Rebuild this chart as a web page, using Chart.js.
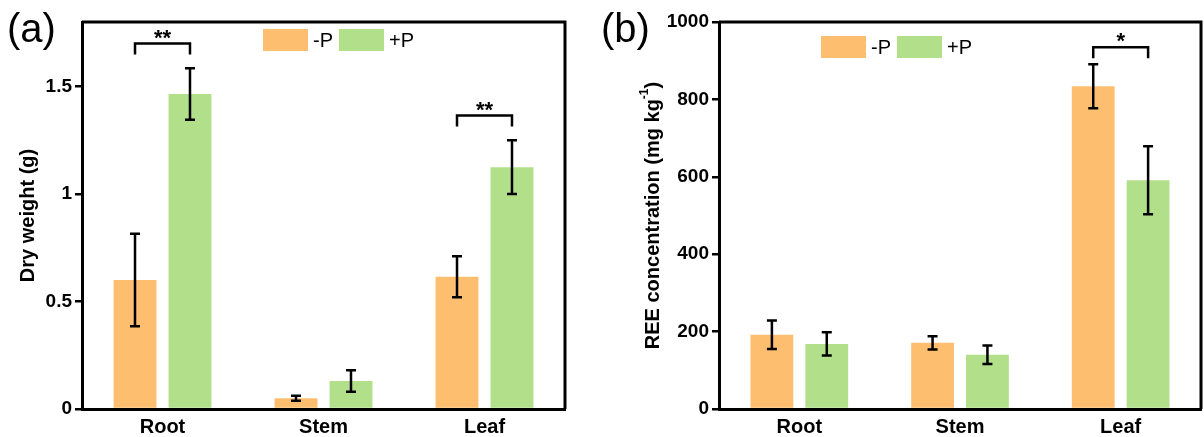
<!DOCTYPE html>
<html>
<head>
<meta charset="utf-8">
<script src="https://cdn.jsdelivr.net/npm/chart.js@4"></script>
<style>
  html, body { margin: 0; padding: 0; background: #fff; }
  #wrap { position: relative; width: 1204px; height: 437px; }
  canvas { position: absolute; top: 0; }
  #chartA { left: 0; }
  #chartB { left: 595px; }
</style>
</head>
<body>
<div id="wrap">
  <canvas id="chartA" width="595" height="437"></canvas>
  <canvas id="chartB" width="609" height="437"></canvas>
</div>
<script>
// Data
const categories = ['Root', 'Stem', 'Leaf'];
const seriesLabels = ['-P', '+P'];
const seriesColors = ['#FDBF6F', '#B2DF8A'];

const weightMinusP = [0.60, 0.05, 0.615];
const weightMinusPErr = [0.215, 0.012, 0.095];
const weightPlusP = [1.465, 0.13, 1.125];
const weightPlusPErr = [0.12, 0.05, 0.125];
const weightTicks = [0, 0.5, 1, 1.5];

const reeMinusP = [192, 171, 834];
const reeMinusPErr = [37, 17, 57];
const reePlusP = [168, 140, 591];
const reePlusPErr = [30, 24, 88];
const reeTicks = [0, 200, 400, 600, 800, 1000];

// significance brackets: category index, bracket height (data units), mark
const weightSigCats = [0, 2];
const weightSigLevels = [1.70, 1.365];
const weightSigMarks = ['**', '**'];
const reeSigCats = [2];
const reeSigLevels = [935];
const reeSigMarks = ['*'];

const FONT = '"Liberation Sans", Arial, sans-serif';

const panelPlugin = {
    id: 'panel',
    afterDatasetsDraw(chart, args, opts) {
        const ctx = chart.ctx;
        const y = chart.scales.y;
        ctx.save();
        ctx.strokeStyle = '#000';
        ctx.lineWidth = 2.5;
        // error bars
        chart.data.datasets.forEach((ds, di) => {
            const meta = chart.getDatasetMeta(di);
            meta.data.forEach((bar, i) => {
                const v = ds.data[i], e = ds.errors[i];
                const yt = y.getPixelForValue(v + e), yb = y.getPixelForValue(v - e);
                ctx.beginPath();
                ctx.moveTo(bar.x, yt); ctx.lineTo(bar.x, yb);
                ctx.moveTo(bar.x - 5, yt); ctx.lineTo(bar.x + 5, yt);
                ctx.moveTo(bar.x - 5, yb); ctx.lineTo(bar.x + 5, yb);
                ctx.stroke();
            });
        });
        // significance brackets
        const m0 = chart.getDatasetMeta(0), m1 = chart.getDatasetMeta(1);
        opts.sigCats.forEach((c, k) => {
            const x0 = m0.data[c].x, x1 = m1.data[c].x;
            const yt = y.getPixelForValue(opts.sigLevels[k]);
            ctx.beginPath();
            ctx.moveTo(x0, yt + 11); ctx.lineTo(x0, yt); ctx.lineTo(x1, yt); ctx.lineTo(x1, yt + 11);
            ctx.stroke();
            ctx.fillStyle = '#000';
            ctx.font = 'bold 22px ' + FONT;
            ctx.textAlign = 'center';
            ctx.textBaseline = 'alphabetic';
            ctx.fillText(opts.sigMarks[k], (x0 + x1) / 2, yt + 1);
        });
        ctx.restore();
    },
    afterDraw(chart, args, opts) {
        const ctx = chart.ctx;
        const a = chart.chartArea;
        ctx.save();
        // top and right frame
        ctx.strokeStyle = '#000';
        ctx.lineWidth = 3;
        ctx.beginPath();
        ctx.moveTo(a.left, a.top); ctx.lineTo(a.right, a.top); ctx.lineTo(a.right, a.bottom);
        ctx.stroke();

        // legend
        let lx = opts.legendX;
        const ly = opts.legendY;
        ctx.font = '20px ' + FONT;
        ctx.textBaseline = 'middle';
        ctx.textAlign = 'left';
        chart.data.datasets.forEach(ds => {
            ctx.fillStyle = ds.backgroundColor;
            ctx.fillRect(lx, ly, 45, 22);
            lx += 50;
            ctx.fillStyle = '#000';
            ctx.fillText(ds.label, lx, ly + 12);
            lx += ctx.measureText(ds.label).width + 6;
        });

        // panel label
        ctx.font = '40px ' + FONT;
        ctx.textBaseline = 'alphabetic';
        ctx.fillText(opts.panel, opts.panelX, 42);

        // y axis title (with optional superscript)
        ctx.translate(opts.titleX, (a.top + a.bottom) / 2);
        ctx.rotate(-Math.PI / 2);
        const big = 'bold 20px ' + FONT, small = 'bold 12px ' + FONT;
        ctx.font = big;
        const w1 = ctx.measureText(opts.title).width;
        ctx.font = small;
        const w2 = opts.sup ? ctx.measureText(opts.sup).width : 0;
        ctx.font = big;
        const w3 = opts.tail ? ctx.measureText(opts.tail).width : 0;
        let tx = -(w1 + w2 + w3) / 2;
        ctx.textBaseline = 'middle';
        ctx.fillText(opts.title, tx, 0);
        tx += w1;
        if (opts.sup) {
            ctx.font = small;
            ctx.fillText(opts.sup, tx, -8);
            tx += w2;
            ctx.font = big;
            ctx.fillText(opts.tail, tx, 0);
        }
        ctx.restore();
    }
};

function makeChart(id, minusData, minusErr, plusData, plusErr, ticks, yMax, yWidth, padRight, panelOpts) {
    const ctx = document.getElementById(id).getContext('2d');
    return new Chart(ctx, {
        type: 'bar',
        data: {
            labels: categories,
            datasets: [
                { label: seriesLabels[0], data: minusData, errors: minusErr, backgroundColor: seriesColors[0] },
                { label: seriesLabels[1], data: plusData, errors: plusErr, backgroundColor: seriesColors[1] }
            ]
        },
        options: {
            responsive: false,
            animation: false,
            categoryPercentage: 0.683,
            barPercentage: 0.78,
            layout: { padding: { left: 0, right: padRight, top: 22, bottom: 0 } },
            plugins: {
                legend: { display: false },
                tooltip: { enabled: false },
                panel: panelOpts
            },
            scales: {
                x: {
                    grid: { display: false, drawTicks: false },
                    border: { display: true, color: '#000', width: 3 },
                    ticks: { color: '#000', padding: 6, font: { family: FONT, size: 20, weight: 'bold' } },
                    afterFit: s => { s.height = 28; }
                },
                y: {
                    min: 0,
                    max: yMax,
                    grid: { display: true, drawOnChartArea: false, drawTicks: true, tickLength: 7, color: '#000', lineWidth: 2.5 },
                    border: { display: true, color: '#000', width: 3 },
                    ticks: {
                        color: '#000', padding: 3,
                        font: { family: FONT, size: 19, weight: 'bold' },
                        callback: v => String(v)
                    },
                    afterBuildTicks: s => { s.ticks = ticks.map(v => ({ value: v })); },
                    afterFit: s => { s.width = yWidth; }
                }
            }
        },
        plugins: [panelPlugin]
    });
}

makeChart('chartA', weightMinusP, weightMinusPErr, weightPlusP, weightPlusPErr, weightTicks, 1.8, 82, 30, {
    sigCats: weightSigCats, sigLevels: weightSigLevels, sigMarks: weightSigMarks,
    legendX: 263, legendY: 29, panel: '(a)', panelX: 7,
    title: 'Dry weight (g)', titleX: 28
});

makeChart('chartB', reeMinusP, reeMinusPErr, reePlusP, reePlusPErr, reeTicks, 1000, 124, 3, {
    sigCats: reeSigCats, sigLevels: reeSigLevels, sigMarks: reeSigMarks,
    legendX: 226, legendY: 36, panel: '(b)', panelX: 6,
    title: 'REE concentration (mg kg', sup: '-1', tail: ')', titleX: 58
});
</script>
</body>
</html>
